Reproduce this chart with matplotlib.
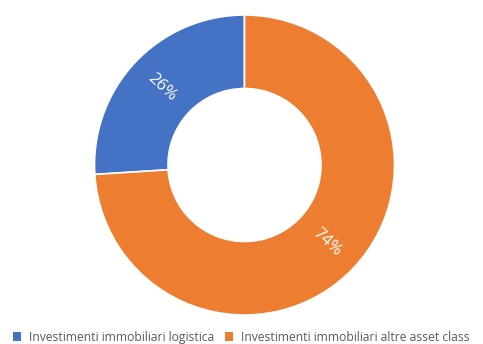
import matplotlib.pyplot as plt
from matplotlib.patches import Patch
import numpy as np

labels = ["Investimenti immobiliari logistica", "Investimenti immobiliari altre asset class"]
values = [26, 74]
colors = ["#4472C4", "#ED7D31"]

plt.rcParams['font.family'] = ['Open Sans', 'DejaVu Sans']

fig = plt.figure(figsize=(4.83, 3.44), dpi=100)
ax = fig.add_axes([94.5 / 483, 29 / 344, 300 / 483, 300 / 344])

wedges, _ = ax.pie(values, colors=colors, startangle=90, counterclock=True,
                   radius=1.0, wedgeprops=dict(width=0.49, edgecolor='white', linewidth=1.2))

# percent labels inside the ring, rotated radially
r_mid = 1.0 - 0.49 / 2
for w, v in zip(wedges, values):
    ang = (w.theta1 + w.theta2) / 2
    x = r_mid * np.cos(np.radians(ang))
    y = r_mid * np.sin(np.radians(ang))
    rot = (ang + 180) % 360 - 180
    if rot > 90:
        rot -= 180
    elif rot < -90:
        rot += 180
    ax.text(x, y, f"{v}%", color='white', fontsize=12, ha='center', va='center',
            rotation=rot, rotation_mode='anchor')

ax.set_xlim(-1, 1)
ax.set_ylim(-1, 1)
ax.set_aspect('equal')
ax.axis('off')

handles = [Patch(facecolor=c, edgecolor='none') for c in colors]
fig.legend(handles, labels, loc='center left', bbox_to_anchor=(0.027, 0.02), ncol=2,
           frameon=False, fontsize=8.7, labelcolor='#595959',
           handlelength=0.7, handleheight=0.7, handletextpad=0.6, columnspacing=0.9,
           borderaxespad=0, borderpad=0)

fig.savefig("out.png", dpi=100)
